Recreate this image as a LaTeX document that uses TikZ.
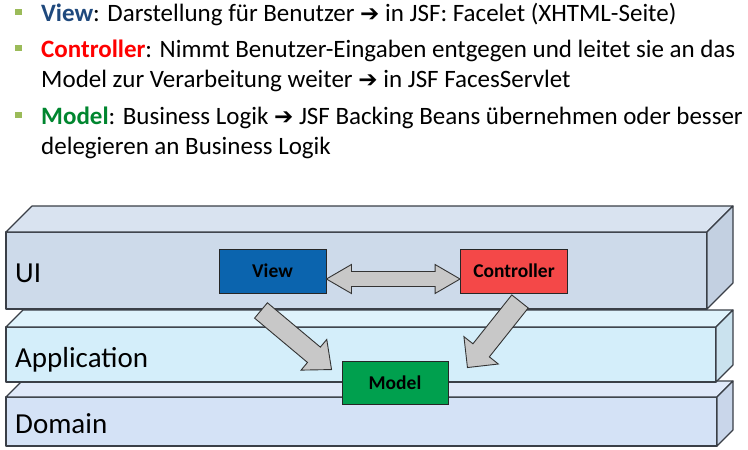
\documentclass[tikz,border=0pt]{standalone}
\usepackage{fontspec}
\setmainfont{Carlito}
\newfontfamily\symfont{DejaVu Sans}
\usetikzlibrary{positioning,calc}

\definecolor{bulletgreen}{HTML}{9BBB59}
\definecolor{viewblue}{HTML}{1F497D}
\definecolor{ctrlred}{HTML}{FF0000}
\definecolor{modelgreen}{HTML}{00862F}
\definecolor{viewfill}{HTML}{0B64AE}
\definecolor{ctrlfill}{HTML}{F44848}
\definecolor{modelfill}{HTML}{00A04E}
\definecolor{slabedge}{HTML}{3A3F47}
\definecolor{arrowfill}{HTML}{C8C8C8}
\definecolor{uifront}{HTML}{CDDAEA}
\definecolor{uitop}{HTML}{D9E3F0}
\definecolor{uiside}{HTML}{C3D0E1}
\definecolor{appfront}{HTML}{D4EEFA}
\definecolor{apptop}{HTML}{DFF3FC}
\definecolor{appside}{HTML}{CAE2EE}
\definecolor{domfront}{HTML}{D4E2F6}
\definecolor{domtop}{HTML}{DFE9F9}
\definecolor{domside}{HTML}{C9D6EA}

\newcommand{\tto}{{\symfont\fontsize{23}{30}\selectfont ➔}}

% name, left, top, right, bottom, depth
\newcommand{\slab}[6]{%
	\filldraw[slabline,fill=#1front] (#2,#3) rectangle (#4,#5);
	\filldraw[slabline,fill=#1top] (#2,#3) -- (#2+#6,#3-#6) -- (#4+#6,#3-#6) -- (#4,#3) -- cycle;
	\filldraw[slabline,fill=#1side] (#4,#3) -- (#4+#6,#3-#6) -- (#4+#6,#5-#6) -- (#4,#5) -- cycle;
}

% from, to, shaft half width, head half width, head length
\newcommand{\blockarrow}[5]{%
	\coordinate (ba-p) at ($(#2)!#5!(#1)$);
	\filldraw[blockline] ($(#1)!#3!90:(#2)$) -- ($(ba-p)!#3!90:(#2)$) -- ($(ba-p)!#4!90:(#2)$) -- (#2)
		-- ($(ba-p)!#4!-90:(#2)$) -- ($(ba-p)!#3!-90:(#2)$) -- ($(#1)!#3!-90:(#2)$) -- cycle;
}
\newcommand{\doubleblockarrow}[5]{%
	\coordinate (ba-p) at ($(#1)!#5!(#2)$);
	\coordinate (ba-q) at ($(#2)!#5!(#1)$);
	\filldraw[blockline] (#1) -- ($(ba-p)!#4!90:(#2)$) -- ($(ba-p)!#3!90:(#2)$) -- ($(ba-q)!#3!90:(#2)$)
		-- ($(ba-q)!#4!90:(#2)$) -- (#2) -- ($(ba-q)!#4!-90:(#2)$) -- ($(ba-q)!#3!-90:(#2)$)
		-- ($(ba-p)!#3!-90:(#2)$) -- ($(ba-p)!#4!-90:(#2)$) -- cycle;
}

\tikzset{
	textline/.style={anchor=base west,inner sep=0pt,font=\fontsize{25}{30}\selectfont},
	bullet/.style={fill=bulletgreen,minimum size=6.5pt,inner sep=0pt},
	layerlabel/.style={anchor=base west,inner sep=0pt,font=\fontsize{29}{34}\selectfont},
	slabline/.style={draw=slabedge,line width=1.1pt,line join=round},
	blockline/.style={fill=arrowfill,draw=black!80,line width=0.9pt,line join=miter},
	mvc/.style={draw=black!85,line width=0.9pt,minimum width=107pt,minimum height=44pt,inner sep=0pt,font=\fontsize{19.5}{22}\selectfont\bfseries}
}

\begin{document}
\begin{tikzpicture}[x=1pt,y=-1pt]
	\useasboundingbox[fill=white] (0,0) rectangle (748,450);

	\node[bullet] (b1) at (18.5,12) {};
	\node[bullet] (b2) at (18.5,48) {};
	\node[bullet] (b3) at (18.5,115) {};
	\node[textline] (l1) at (41,21) {\textcolor{viewblue}{\textbf{View}}: Darstellung für Benutzer \tto{} in JSF: Facelet (XHTML-Seite)};
	\node[textline] (l2) at (41,57) {\textcolor{ctrlred}{\textbf{Controller}}: Nimmt Benutzer-Eingaben entgegen und leitet sie an das};
	\node[textline] (l3) at (41,87) {Model zur Verarbeitung weiter \tto{} in JSF FacesServlet};
	\node[textline] (l4) at (41,124) {\textcolor{modelgreen}{\textbf{Model}}: Business Logik \tto{} JSF Backing Beans übernehmen oder besser};
	\node[textline] (l5) at (41,154) {delegieren an Business Logik};

	\slab{dom}{6}{397}{717}{446}{16}
	\slab{app}{6}{327}{716}{382}{17}
	\slab{ui}{6}{232}{707}{309}{26}
	\node[layerlabel] (ui) at (15,282) {UI};
	\node[layerlabel] (app) at (15,367) {Application};
	\node[layerlabel] (dom) at (15,433) {Domain};

	\node[mvc,fill=viewfill] (view) at (272.5,271) {View};
	\node[mvc,fill=ctrlfill] (ctrl) at (514,271) {Controller};
	\node[mvc,fill=modelfill,minimum width=106pt,minimum height=43pt] (model) at (395,382.5) {Model};

	\coordinate (vc) at ($(view.east)+(0,8)$);
	\coordinate (cv) at ($(ctrl.west)+(0,8)$);
	\coordinate (vm) at ($(view.south)+(-11.5,17)$);
	\coordinate (mv) at ($(model.north west)+(-10,9)$);
	\coordinate (cm) at ($(ctrl.south)+(6,8)$);
	\coordinate (mc) at ($(model.north east)+(19,7)$);
	\doubleblockarrow{vc}{cv}{7.5pt}{14.5pt}{25pt}
	\blockarrow{vm}{mv}{10pt}{20pt}{23pt}
	\blockarrow{cm}{mc}{10.5pt}{22pt}{22pt}
\end{tikzpicture}
\end{document}
